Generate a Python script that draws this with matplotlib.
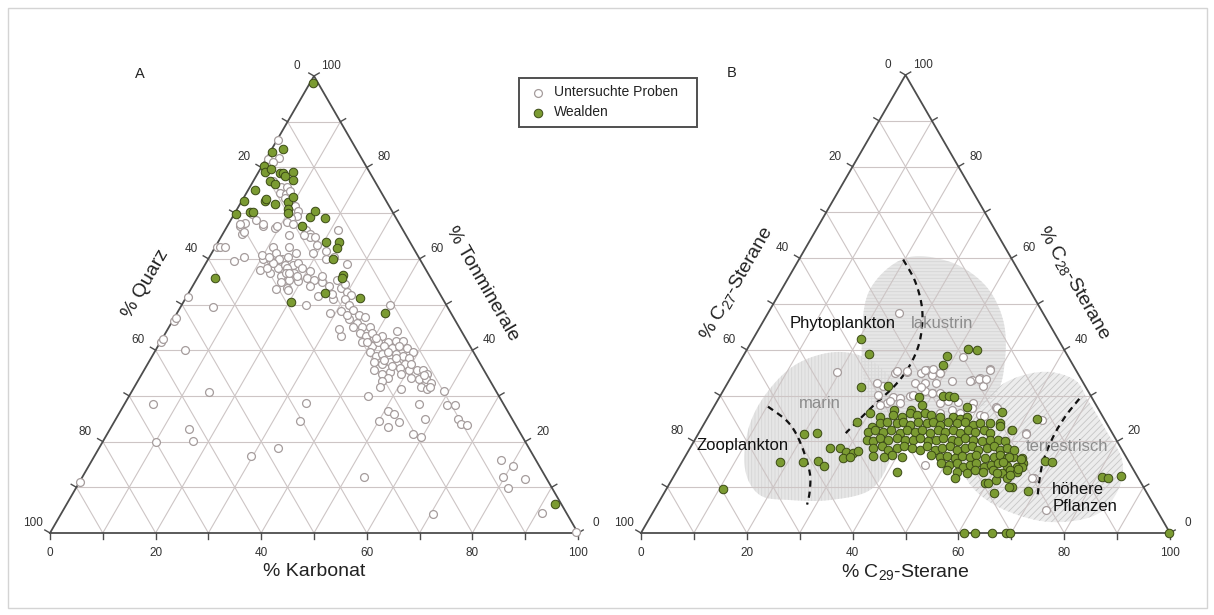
import numpy as np
import matplotlib
matplotlib.use("Agg")
import matplotlib.pyplot as plt
from matplotlib.patches import Rectangle, Polygon

plt.rcParams['font.family'] = ['Liberation Sans', 'DejaVu Sans']
plt.rcParams['mathtext.fontset'] = 'custom'
plt.rcParams['mathtext.rm'] = 'Liberation Sans'
plt.rcParams['mathtext.it'] = 'Liberation Sans:italic'
plt.rcParams['hatch.linewidth'] = 0.6

# ---------------------------------------------------------------- data
# Diagram A: (% Karbonat, % Tonminerale); % Quarz = 100 - both
proben_A = [
    (0.2, 86.1), (2.3, 82.1), (1.5, 80.9), (1.2, 80.0), (3.8, 77.0), (5.9, 75.7), (7.0, 75.7),
    (6.3, 74.5), (7.6, 74.2), (8.0, 74.9), (7.9, 73.2), (10.6, 71.5), (11.7, 70.5), (12.0, 69.4),
    (11.1, 68.9), (10.8, 68.1), (12.1, 67.7), (14.2, 67.2), (15.3, 66.4), (16.5, 65.5), (16.9, 64.7),
    (15.6, 65.1), (2.4, 67.2), (3.6, 65.5), (3.3, 69.8), (4.7, 68.5), (6.8, 67.2), (9.2, 66.8),
    (12.7, 65.1), (21.4, 66.4), (17.8, 64.7), (19.1, 63.0), (21.4, 61.7), (22.2, 60.0), (19.2, 61.3),
    (23.5, 60.4), (26.8, 58.9), (11.0, 62.6), (12.1, 61.3), (12.1, 59.6), (10.4, 60.0), (11.0, 57.6),
    (13.2, 57.0), (14.3, 57.9), (14.0, 60.0), (13.9, 62.6), (16.0, 61.3), (14.8, 60.4), (15.1, 58.7),
    (16.7, 58.6), (17.5, 59.1), (15.9, 57.9), (17.8, 57.0), (18.8, 57.9), (20.6, 57.4), (15.7, 56.2),
    (17.6, 55.3), (19.5, 55.1), (20.8, 55.7), (22.4, 55.3), (24.0, 54.9), (16.1, 53.4), (18.1, 53.6),
    (22.3, 54.0), (24.8, 51.9), (25.9, 54.0), (28.4, 53.6), (23.5, 50.0), (28.9, 48.1), (33.6, 43.2),
    (29.9, 52.8), (30.9, 52.1), (30.3, 51.1), (31.7, 49.8), (32.9, 48.9), (34.6, 47.7), (36.0, 47.2),
    (33.2, 46.8), (35.1, 46.0), (36.6, 45.1), (38.1, 45.1), (34.8, 45.1), (36.9, 43.8), (38.4, 43.0),
    (40.1, 42.6), (41.4, 43.0), (39.3, 50.0), (43.5, 44.3), (43.1, 41.7), (44.4, 42.1), (45.9, 42.1),
    (38.3, 41.7), (40.6, 40.9), (41.3, 41.7), (42.8, 40.9), (44.5, 40.4), (45.7, 40.9), (47.5, 40.4),
    (49.0, 39.6), (40.9, 39.6), (42.4, 38.7), (43.3, 39.1), (44.2, 39.6), (45.9, 39.1), (47.6, 38.7),
    (48.9, 38.3), (45.6, 37.4), (47.3, 37.0), (48.8, 37.0), (42.7, 37.4), (44.4, 37.0), (43.6, 35.7),
    (45.4, 34.9), (46.7, 35.3), (48.1, 36.2), (50.2, 35.7), (51.6, 35.7), (52.7, 35.7), (53.9, 34.9),
    (53.1, 33.6), (54.5, 33.6), (55.7, 32.8), (54.3, 31.9), (55.6, 31.5), (56.1, 31.9), (47.0, 34.0),
    (46.3, 33.2), (46.6, 31.9), (50.7, 31.5), (59.1, 31.1), (45.3, 30.0), (55.7, 28.3), (61.2, 28.1),
    (62.6, 28.1), (58.5, 24.9), (50.6, 26.8), (52.1, 26.0), (54.0, 24.3), (50.2, 24.4), (52.4, 23.2),
    (64.9, 24.9), (66.0, 23.8), (67.2, 23.6), (57.9, 21.7), (59.9, 20.9), (77.5, 15.9), (80.3, 14.7),
    (79.7, 12.3), (84.0, 11.9), (81.9, 9.8), (91.0, 4.3), (70.4, 4.1), (99.5, 0.3), (53.4, 12.3),
    (34.3, 28.5), (35.2, 24.4), (34.0, 18.5), (29.6, 16.9), (14.7, 30.9), (5.3, 28.3), (14.9, 22.7),
    (16.9, 20.2), (10.0, 20.0), (0.2, 11.1), (5.6, 40.0), (6.2, 49.4), (0.2, 41.7), (0.2, 42.4),
    (0.2, 46.4), (0.3, 47.0), (0.3, 51.7), (0.3, 62.6), (0.9, 62.6), (1.8, 62.6), (5.0, 59.6),
    (6.5, 60.3), (13.4, 60.0), (12.7, 59.1), (16.2, 57.0), (16.3, 54.9), (16.7, 57.0), (18.6, 56.2),
    (12.2, 57.9), (18.4, 53.2), (26.8, 55.3), (28.1, 51.1), (30.9, 48.5), (28.6, 54.5), (23.4, 56.2),
    (27.2, 52.3), (32.4, 47.7), (32.4, 44.7), (39.1, 43.8), (46.3, 38.3), (51.4, 34.0), (53.5, 34.5),
    (40.5, 42.6), (44.3, 37.9), (46.4, 36.6), (49.1, 34.9), (39.1, 41.7), (49.9, 37.0), (6.6, 67.6),
    (9.3, 67.2), (3.0, 67.8), (2.2, 67.6), (3.7, 65.9), (9.7, 60.8), (11.3, 60.5), (0.3, 81.8),
    (1.7, 81.2),
]
wealden_A = [
    (0.5, 98.5), (0.4, 83.4), (2.1, 84.0), (0.4, 80.4), (1.1, 79.1), (2.1, 79.6), (4.2, 78.7),
    (4.7, 78.7), (5.5, 78.2), (6.5, 79.1), (7.5, 77.2), (3.2, 77.0), (4.4, 76.4), (1.3, 75.1),
    (0.4, 72.7), (4.4, 72.7), (4.5, 73.0), (6.6, 72.1), (8.9, 72.5), (9.3, 73.5), (9.7, 70.8),
    (10.1, 70.0), (2.7, 70.2), (3.4, 70.2), (0.4, 69.8), (14.1, 67.2), (14.7, 69.1), (14.9, 70.5),
    (17.5, 69.0), (20.5, 63.6), (22.9, 63.7), (23.1, 62.4), (23.6, 59.9), (27.3, 56.5), (27.3, 55.9),
    (25.7, 52.6), (33.1, 51.4), (39.3, 48.2), (3.3, 55.9), (20.3, 50.5), (92.5, 6.4),
]

# Diagram B: (% C29-Sterane, % C28-Sterane); % C27 = 100 - both
proben_B = [
    (24.8, 48.0), (19.5, 35.2), (30.6, 34.9), (32.6, 35.2), (35.5, 35.0), (36.2, 35.6), (37.7, 34.5),
    (39.0, 35.0), (35.4, 32.7), (37.3, 32.7), (41.6, 38.4), (46.0, 33.3), (47.2, 33.8), (48.7, 32.0),
    (48.1, 35.8), (29.8, 32.0), (32.8, 29.8), (34.2, 29.4), (35.9, 29.9), (39.7, 30.5), (38.2, 30.9),
    (41.3, 30.5), (34.8, 28.3), (32.3, 28.3), (31.2, 28.0), (42.4, 28.3), (45.6, 28.7), (43.4, 26.1),
    (45.3, 26.9), (48.7, 28.3), (51.2, 25.8), (53.4, 27.6), (61.9, 21.9), (68.2, 12.0), (46.2, 14.9),
    (36.4, 30.1), (28.2, 32.7), (45.5, 33.2), (47.0, 33.6), (48.4, 33.6), (53.7, 27.2), (52.0, 25.5),
    (63.5, 24.6), (61.9, 21.6), (58.6, 22.5), (67.9, 12.0), (74.0, 5.0), (30.8, 35.3), (32.7, 35.3),
    (35.9, 35.6), (37.3, 35.7), (39.1, 35.0), (37.0, 31.9), (39.5, 32.7), (42.2, 33.2), (29.7, 30.2),
    (32.6, 28.9), (36.3, 30.2), (39.8, 30.6), (43.6, 28.9), (47.1, 26.3), (48.9, 27.2), (48.3, 35.5),
]
wealden_B = [
    (20.4, 42.3), (23.6, 39.0), (41.8, 40.2), (43.6, 40.0), (38.5, 38.7), (38.7, 36.7), (25.6, 31.8),
    (30.6, 32.0), (37.7, 29.8), (42.2, 29.9), (43.2, 30.0), (44.3, 29.8), (34.4, 26.9), (37.6, 26.9),
    (39.1, 28.0), (47.9, 27.6), (55.0, 26.4), (62.3, 25.0), (28.7, 24.3), (30.2, 26.1), (20.0, 21.6),
    (22.3, 21.8), (26.4, 18.6), (28.4, 18.5), (29.9, 17.6), (31.4, 17.4), (32.2, 17.8), (30.0, 16.3),
    (31.2, 16.7), (18.5, 15.6), (22.9, 15.6), (25.5, 15.8), (27.3, 14.7), (41.7, 13.4),
    (32.5, 25.4), (34.8, 25.8), (36.6, 25.4), (37.8, 26.1), (39.2, 25.8), (40.6, 26.1), (42.0, 25.8),
    (43.8, 25.4), (46.3, 25.4), (47.8, 25.0), (48.9, 25.4),
    (32.0, 23.2), (33.2, 24.0), (34.3, 24.3), (36.3, 24.0), (37.4, 24.3), (39.0, 23.6), (40.3, 24.3),
    (42.0, 24.0), (43.1, 24.3), (44.7, 23.6), (45.9, 24.3), (47.7, 24.0), (49.1, 24.3), (51.0, 23.6),
    (52.1, 24.0), (54.0, 24.0), (55.9, 24.0),
    (31.9, 22.1), (33.0, 22.5), (34.7, 22.1), (36.1, 22.5), (38.0, 21.9), (39.0, 22.5), (40.7, 22.1),
    (41.8, 22.5), (43.7, 21.9), (44.9, 22.5), (46.4, 22.1), (47.8, 22.5), (49.3, 21.9), (50.6, 22.5),
    (52.1, 22.1), (53.5, 22.5), (55.1, 21.8), (58.8, 22.5),
    (32.5, 20.3), (33.9, 20.0), (34.8, 20.7), (36.6, 20.3), (38.0, 20.7), (39.7, 20.3), (41.3, 20.3),
    (42.4, 20.7), (44.3, 20.0), (45.7, 20.3), (46.8, 20.7), (48.6, 20.3), (50.0, 20.0), (50.9, 20.7),
    (52.7, 20.3), (54.4, 20.0), (55.8, 20.3), (57.4, 20.3), (58.8, 20.0),
    (34.7, 18.5), (36.1, 18.9), (37.7, 18.1), (39.1, 18.5), (40.2, 18.9), (41.9, 18.5), (43.7, 18.1),
    (44.6, 18.9), (46.5, 18.1), (47.6, 18.5), (49.0, 18.9), (50.6, 18.1), (52.0, 18.5), (53.1, 18.9),
    (54.7, 18.1), (56.1, 18.5), (57.2, 18.9), (58.8, 18.1), (59.9, 18.5),
    (35.5, 16.8), (37.5, 16.7), (38.9, 17.0), (40.9, 16.7), (46.4, 17.0), (48.2, 16.7), (49.4, 16.8),
    (51.2, 16.3), (52.2, 16.8), (53.8, 16.7), (54.9, 17.0), (56.9, 16.3), (58.3, 16.7), (59.3, 17.0),
    (61.0, 16.3), (62.0, 16.7), (63.8, 16.3),
    (49.2, 15.2), (50.7, 14.9), (52.1, 15.2), (53.7, 14.5), (54.8, 14.9), (55.8, 15.2), (57.5, 14.5),
    (58.8, 14.9), (59.9, 15.2), (61.8, 14.6), (63.8, 14.5), (64.7, 15.2),
    (50.9, 13.8), (53.0, 13.4), (55.0, 13.2), (56.2, 13.8), (58.0, 13.4), (59.7, 13.8), (61.6, 13.2),
    (62.9, 13.8), (64.3, 13.4),
    (53.4, 12.0), (59.6, 10.9), (60.2, 10.9), (61.4, 11.6), (63.1, 12.0), (68.6, 9.2), (62.3, 8.7),
    (65.1, 10.0), (10.7, 9.5), (64.5, 10.1), (63.4, 12.6), (64.9, 14.4), (63.7, 16.1), (56.2, 23.3),
    (61.5, 18.2), (61.3, 16.5), (60.8, 13.1), (60.6, 15.6), (64.3, 13.9),
    (68.5, 15.7), (69.8, 15.6), (81.0, 12.2), (82.4, 11.9), (84.5, 12.4), (99.8, 0.1),
    (61.0, 0.0), (63.1, 0.0), (66.4, 0.0), (69.0, 0.0), (69.7, 0.0),
]

# source fields in diagram B, outline vertices as (% C29, % C28)
feld_lakustrin = [(19.9, 60.0), (28.8, 59.2), (38.0, 54.1), (45.2, 46.5), (49.9, 37.8), (51.9, 30.1),
                  (48.0, 24.7), (41.5, 22.5), (33.8, 24.7), (26.9, 31.2), (20.7, 42.1), (16.7, 53.1)]
feld_marin = [(12.8, 13.8), (9.0, 22.5), (8.4, 30.1), (10.8, 36.7), (16.9, 39.5), (24.4, 37.8),
              (31.9, 32.3), (36.6, 24.7), (39.1, 15.9), (38.6, 9.4), (32.1, 7.2), (24.6, 7.2), (18.3, 8.3)]
feld_terrestrisch = [(50.5, 29.0), (53.1, 33.4), (58.8, 35.2), (65.3, 33.4), (70.0, 29.0), (76.6, 22.5),
                     (83.0, 15.9), (85.5, 9.4), (83.9, 3.9), (76.1, 2.4), (66.3, 5.0), (58.4, 9.4),
                     (53.3, 14.8), (50.6, 22.5)]
grenze_zooplankton = [(10.2, 27.6), (15.7, 24.2), (20.1, 19.9), (25.1, 13.5), (27.3, 9.2), (28.3, 6.2)]
grenze_phytoplankton = [(19.7, 59.7), (24.3, 55.0), (28.4, 49.4), (30.9, 44.3), (32.2, 40.0),
                        (32.5, 35.7), (31.8, 31.9), (30.1, 28.0), (28.8, 24.6), (27.8, 21.8)]
grenze_pflanzen = [(68.2, 29.3), (67.5, 25.5), (67.4, 21.2), (68.1, 16.1), (69.3, 12.2), (71.0, 7.9)]

ticks = [0, 10, 20, 30, 40, 50, 60, 70, 80, 90, 100]

# ---------------------------------------------------------------- styles
W, H = 1214, 615
EDGE = '#4d4d4d'
GRID = '#cdc5c5'
GREEN_FACE = '#7b9b32'
GREEN_EDGE = '#3b4a16'
OPEN_EDGE = '#a59c9c'
S_OPEN, S_FILLED = 32, 38

fig = plt.figure(figsize=(W / 100, H / 100), dpi=100)
ax = fig.add_axes([0, 0, 1, 1])
ax.set_xlim(0, W)
ax.set_ylim(H, 0)
ax.axis('off')

NB = np.array([0.0, 1.0])
NL = np.array([-np.sqrt(3) / 2, -0.5])
NR = np.array([np.sqrt(3) / 2, -0.5])


class Ternary:
    """Maps (bottom-right %, top %) onto a triangle placed in figure pixels."""

    def __init__(self, bl, br, top):
        self.bl = np.array(bl, float)
        self.br = np.array(br, float)
        self.top = np.array(top, float)

    def xy(self, r, t):
        r = np.asarray(r, float) / 100.0
        t = np.asarray(t, float) / 100.0
        x = self.bl[0] + r * (self.br[0] - self.bl[0]) + t * (self.top[0] - self.bl[0])
        y = self.bl[1] + r * (self.br[1] - self.bl[1]) + t * (self.top[1] - self.bl[1])
        return x, y


def catmull_rom(x, y, closed=False, n=16):
    pts = np.column_stack([x, y])
    if closed:
        P = np.vstack([pts[-1], pts, pts[0], pts[1]])
        segs = len(pts)
    else:
        P = np.vstack([pts[0], pts, pts[-1]])
        segs = len(pts) - 1
    out = []
    for i in range(segs):
        p0, p1, p2, p3 = P[i], P[i + 1], P[i + 2], P[i + 3]
        for s in np.linspace(0, 1, n, endpoint=False):
            s2, s3 = s * s, s * s * s
            out.append(0.5 * ((2 * p1) + (-p0 + p2) * s + (2 * p0 - 5 * p1 + 4 * p2 - p3) * s2
                              + (-p0 + 3 * p1 - 3 * p2 + p3) * s3))
    if not closed:
        out.append(pts[-1])
    out = np.array(out)
    return out[:, 0], out[:, 1]


def draw_triangle(T, left_title, right_title, bottom_title, letter):
    for v in range(10, 100, 10):
        for (r0, t0), (r1, t1) in [((0, v), (100 - v, v)),
                                   ((v, 0), (v, 100 - v)),
                                   ((100 - v, 0), (0, 100 - v))]:
            x, y = T.xy([r0, r1], [t0, t1])
            ax.plot(x, y, color=GRID, lw=0.8, zorder=2)
    x, y = T.xy([0, 100, 0, 0], [0, 0, 100, 0])
    ax.plot(x, y, color=EDGE, lw=1.3, zorder=3, solid_joinstyle='miter')

    for k in ticks:
        for r, t, n in [(k, 0, NB), (0, 100 - k, NL), (100 - k, k, NR)]:
            x0, y0 = T.xy(r, t)
            ax.plot([x0, x0 + 6 * n[0]], [y0, y0 + 6 * n[1]], color=EDGE, lw=1.0, zorder=3)
            if k % 20 == 0:
                ax.text(x0 + 20 * n[0], y0 + 20 * n[1], str(k), fontsize=8.5, color='#333333',
                        ha='center', va='center', zorder=3)

    xm, ym = T.xy(50, 0)
    ax.text(xm, ym + 39, bottom_title, fontsize=14, ha='center', va='center', color='#222222')
    xm, ym = T.xy(0, 50)
    ax.text(xm + 42 * NL[0], ym + 42 * NL[1], left_title, fontsize=14, rotation=60,
            rotation_mode='anchor', ha='center', va='center', color='#222222')
    xm, ym = T.xy(50, 50)
    ax.text(xm + 42 * NR[0], ym + 42 * NR[1], right_title, fontsize=14, rotation=-60,
            rotation_mode='anchor', ha='center', va='center', color='#222222')
    xa, ya = T.xy(0, 100)
    ax.text(xa - 174, ya - 2, letter, fontsize=10.5, ha='center', va='center', color='#222222')


def scatter(T, data, kind, z):
    d = np.array(data, float)
    x, y = T.xy(d[:, 0], d[:, 1])
    if kind == 'open':
        ax.scatter(x, y, s=S_OPEN, facecolor='white', edgecolor=OPEN_EDGE, linewidth=0.9, zorder=z)
    else:
        ax.scatter(x, y, s=S_FILLED, facecolor=GREEN_FACE, edgecolor=GREEN_EDGE, linewidth=0.7, zorder=z)


def field(T, outline, face, hatch, hatch_color):
    d = np.array(outline, float)
    x, y = T.xy(d[:, 0], d[:, 1])
    xs, ys = catmull_rom(x, y, closed=True)
    ax.add_patch(Polygon(np.column_stack([xs, ys]), closed=True, facecolor=face,
                         edgecolor='none', zorder=1))
    ax.add_patch(Polygon(np.column_stack([xs, ys]), closed=True, facecolor='none',
                         edgecolor=hatch_color, hatch=hatch, linewidth=0, zorder=1.1))


def boundary(T, line):
    d = np.array(line, float)
    x, y = T.xy(d[:, 0], d[:, 1])
    xs, ys = catmull_rom(x, y)
    ax.plot(xs, ys, color='#111111', lw=1.6, linestyle=(0, (2.8, 2.2)), zorder=4)


# figure border
ax.add_patch(Rectangle((7.5, 7.5), W - 15, H - 15, facecolor='none', edgecolor='#d4d4d4',
                       lw=1.0, zorder=0))

TA = Ternary((50, 533), (578, 533), (314, 76))
TB = Ternary((641, 533), (1170, 533), (905.5, 75))

# ---- diagram A
draw_triangle(TA, '% Quarz', '% Tonminerale', '% Karbonat', 'A')
scatter(TA, proben_A, 'open', 5)
scatter(TA, wealden_A, 'filled', 6)

# ---- diagram B
field(TB, feld_marin, '#e6e6e6', '|||||', '#d6d6d6')
field(TB, feld_lakustrin, '#e6e6e6', '-----', '#d6d6d6')
field(TB, feld_terrestrisch, '#ececec', '/////', '#c6c6c6')
draw_triangle(TB, '% C$_{\\mathrm{27}}$-Sterane', '% C$_{\\mathrm{28}}$-Sterane',
              '% C$_{\\mathrm{29}}$-Sterane', 'B')
boundary(TB, grenze_zooplankton)
boundary(TB, grenze_phytoplankton)
boundary(TB, grenze_pflanzen)

for txt, (r, t), col in [('Phytoplankton', (15.3, 45.7), '#111111'),
                         ('lakustrin', (34.1, 45.7), '#8c8c8c'),
                         ('marin', (19.8, 28.2), '#8c8c8c'),
                         ('Zooplankton', (9.7, 19.1), '#111111'),
                         ('terrestrisch', (71.0, 18.9), '#8c8c8c')]:
    x, y = TB.xy(r, t)
    ax.text(x, y, txt, fontsize=12, color=col, ha='center', va='center', zorder=4.5)
x, y = TB.xy(73.9, 7.7)
ax.text(x, y, 'höhere\nPflanzen', fontsize=12, color='#111111', ha='left', va='center',
        linespacing=1.15, zorder=4.5)

scatter(TB, proben_B, 'open', 5)
scatter(TB, wealden_B, 'filled', 6)

# ---- legend
ax.add_patch(Rectangle((519, 78), 178, 49, facecolor='white', edgecolor='#505050', lw=1.4, zorder=7))
ax.scatter([538], [92.5], s=S_OPEN, facecolor='white', edgecolor=OPEN_EDGE, linewidth=0.9, zorder=8)
ax.scatter([538], [112.5], s=S_FILLED, facecolor=GREEN_FACE, edgecolor=GREEN_EDGE, linewidth=0.7, zorder=8)
ax.text(554, 92.5, 'Untersuchte Proben', fontsize=10, ha='left', va='center', zorder=8, color='#222222')
ax.text(554, 112.5, 'Wealden', fontsize=10, ha='left', va='center', zorder=8, color='#222222')

fig.savefig('out.png', dpi=100)
